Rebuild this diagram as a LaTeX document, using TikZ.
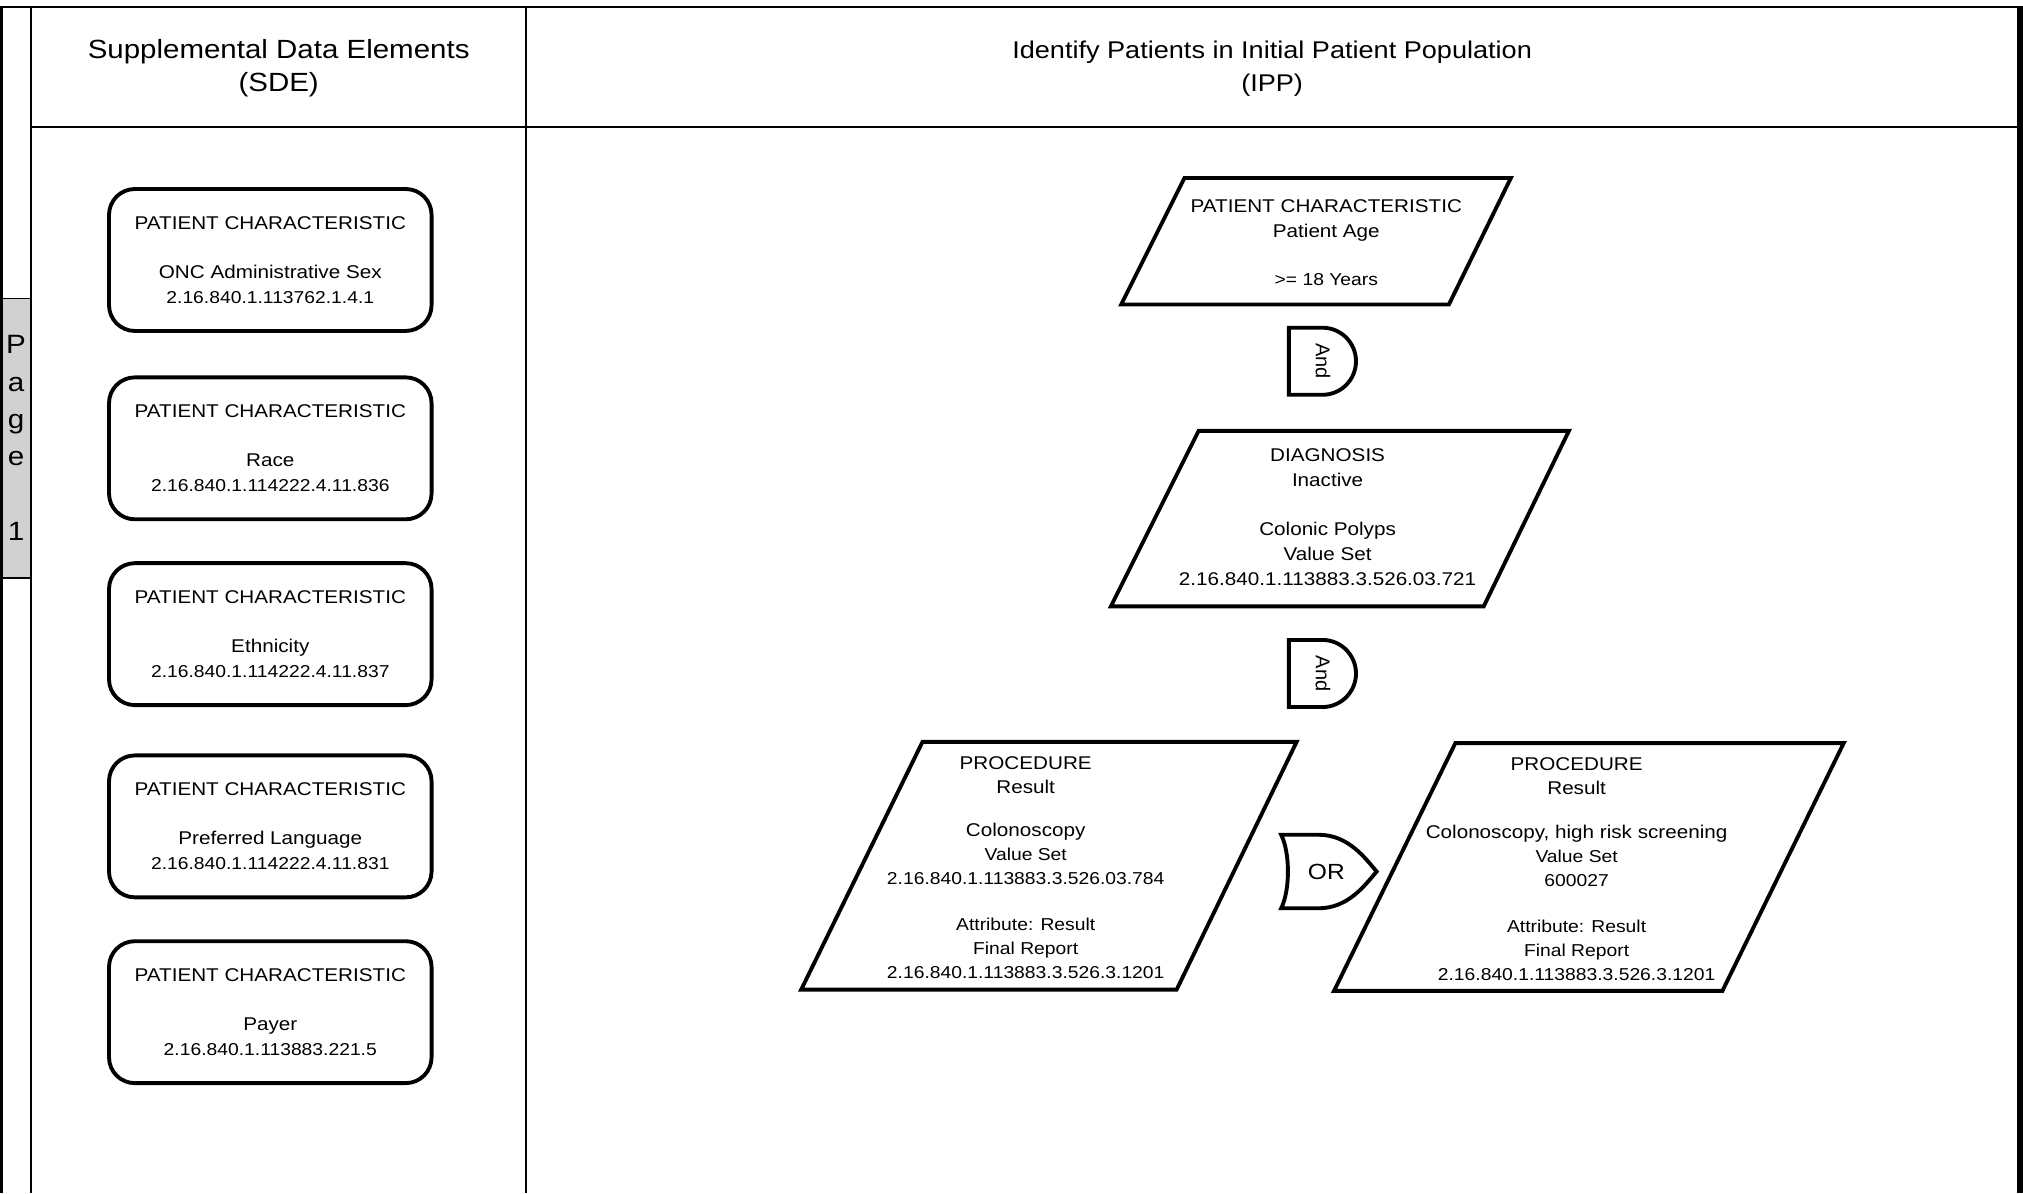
\documentclass[tikz,border=0pt]{standalone}
\usepackage{fontspec}
\setmainfont{Liberation Sans}[FakeStretch=1.12]
\newfontfamily\plainsans{Liberation Sans}
\newcommand\fA{\fontsize{14.3}{19}\selectfont}
\newcommand\fB{\fontsize{13.35}{19}\selectfont}
\begin{document}
\begin{tikzpicture}[x=1pt,y=-1pt,
  lane/.style={line width=1.2pt},
  shapeline/.style={line width=3pt},
  gate/.style={line width=3pt},
  sdebox/.style={draw, line width=3pt, rounded corners=20pt, minimum width=250pt,
     minimum height=110pt, align=center, font=\fA, inner sep=0pt},
  txt/.style={align=center, font=\fA, inner sep=0pt},
  title/.style={align=center, inner sep=0pt}]
\useasboundingbox (0,0) rectangle (1568,924.7);

% page strip
\fill[black!18] (1.2,231) rectangle (24,448);
\draw[line width=0.8pt] (1.2,231) -- (24,231) (1.2,448) -- (24,448);
\node[align=center, font=\fontsize{20.5}{29}\selectfont, inner sep=0pt] (page) at (12.5,339.5) {P\\a\\g\\e\\ \\1};

% lane frame
\draw[line width=1.6pt] (0,5.5) -- (1568,5.5);
\draw[lane] (24,5.5) -- (24,925);
\draw[lane] (407.5,5.5) -- (407.5,925);
\draw[lane] (24,98.4) -- (1568,98.4);
\draw[line width=2.4pt] (1.2,5.5) -- (1.2,925);
\draw[line width=4.7pt] (1565.6,5.5) -- (1565.6,925);

% titles
\node[title, font=\fontsize{20.4}{26}\selectfont] (sdetitle) at (216,53) {Supplemental Data Elements\\(SDE)};
\node[title, font=\fontsize{18.75}{26}\selectfont] (ipptitle) at (986,53.3) {Identify Patients in Initial Patient Population\\(IPP)};

% SDE boxes
\node[sdebox] (sde1) at (209.5,201.5) {PATIENT CHARACTERISTIC\\[19pt] ONC Administrative Sex\\ \fB 2.16.840.1.113762.1.4.1};
\node[sdebox] (sde2) at (209.5,347.5) {PATIENT CHARACTERISTIC\\[19pt] Race\\ \fB 2.16.840.1.114222.4.11.836};
\node[sdebox] (sde3) at (209.5,491.5) {PATIENT CHARACTERISTIC\\[19pt] Ethnicity\\ \fB 2.16.840.1.114222.4.11.837};
\node[sdebox] (sde4) at (209.5,640.5) {PATIENT CHARACTERISTIC\\[19pt] Preferred Language\\ \fB 2.16.840.1.114222.4.11.831};
\node[sdebox] (sde5) at (209.5,784.5) {PATIENT CHARACTERISTIC\\[19pt] Payer\\ \fB 2.16.840.1.113883.221.5};

% parallelograms
\draw[shapeline] (918,138) -- (1171,138) -- (1123,236) -- (869,236) -- cycle;
\node[txt] (age) at (1028,188) {PATIENT CHARACTERISTIC\\ Patient Age\\[18pt] \fB >= 18 Years};

\draw[shapeline] (929,334) -- (1216,334) -- (1150,470) -- (861,470) -- cycle;
\node[txt, font=\fontsize{14.3}{19.3}\selectfont] (diag) at (1029,400.8) {DIAGNOSIS\\ Inactive\\[19pt] Colonic Polyps\\ Value Set\\ 2.16.840.1.113883.3.526.03.721};

\draw[shapeline] (715,575) -- (1005,575) -- (912,767) -- (621,767) -- cycle;
\node[txt, font=\fontsize{14.3}{18.6}\selectfont] (proc1) at (795,672.5) {PROCEDURE\\ Result\\[15pt] Colonoscopy\\ \fB Value Set\\ \fB 2.16.840.1.113883.3.526.03.784\\[17pt] \fB Attribute: Result\\ \fB Final Report\\ \fB 2.16.840.1.113883.3.526.3.1201};

\draw[shapeline] (1128,576) -- (1429,576) -- (1335,768) -- (1034,768) -- cycle;
\node[txt, font=\fontsize{14.3}{18.6}\selectfont] (proc2) at (1222,673.5) {PROCEDURE\\ Result\\[15.4pt] Colonoscopy, high risk screening\\ \fB Value Set\\ \fB 600027\\[17pt] \fB Attribute: Result\\ \fB Final Report\\ \fB 2.16.840.1.113883.3.526.3.1201};

% And gates
\draw[gate] (999,254) -- (1025,254) arc[start angle=90,end angle=-90,radius=26pt] -- (999,306) -- cycle;
\node[rotate=-90, font=\plainsans\fontsize{15.5}{18}\selectfont, inner sep=0pt] (and1) at (1025.5,280) {And};
\draw[gate] (999,496) -- (1025,496) arc[start angle=90,end angle=-90,radius=26pt] -- (999,548) -- cycle;
\node[rotate=-90, font=\plainsans\fontsize{15.5}{18}\selectfont, inner sep=0pt] (and2) at (1025.5,522) {And};

% OR gate
\draw[gate] (993,647) -- (1022,647) .. controls (1045,647) and (1058,665) .. (1067,675.5)
   .. controls (1058,686) and (1045,704) .. (1022,704) -- (993,704)
   .. controls (1000,690) and (1000,661) .. (993,647) -- cycle;
\node[font=\fontsize{17}{20}\selectfont, inner sep=0pt] (or) at (1028,675.5) {OR};
\end{tikzpicture}
\end{document}
